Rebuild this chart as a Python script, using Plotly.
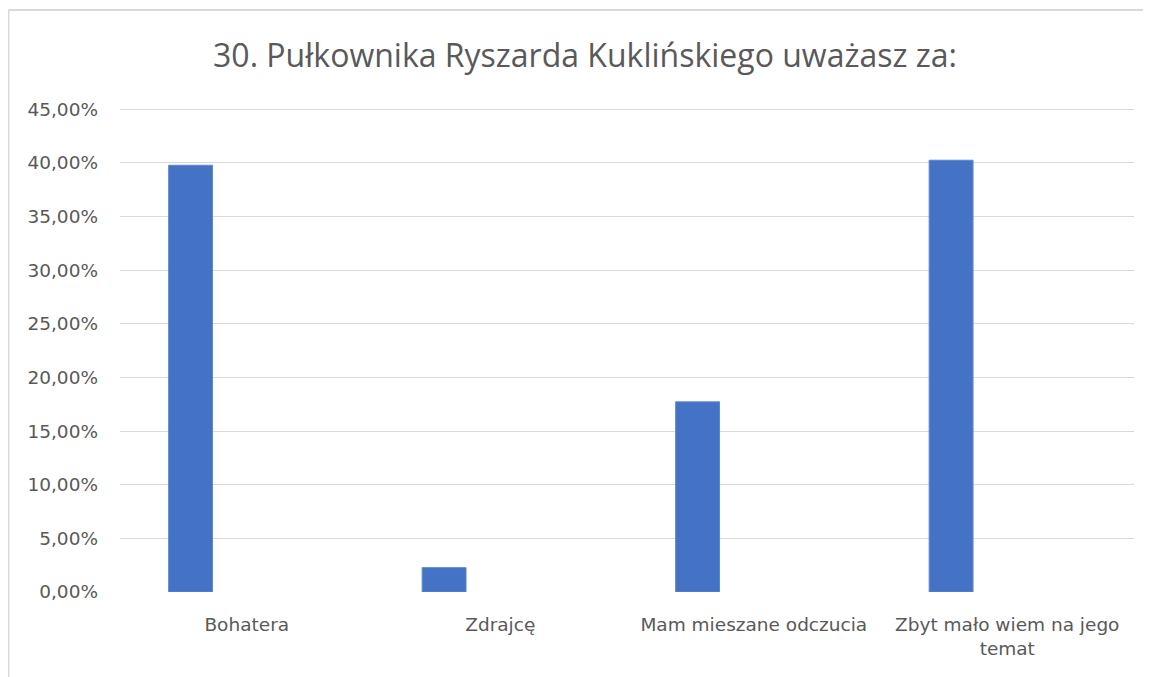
import plotly.graph_objects as go

categories = ["Bohatera", "Zdrajcę", "Mam mieszane odczucia", "Zbyt mało wiem na jego<br>temat"]
values = [39.77, 2.27, 17.72, 40.24]
tick_vals = [0, 5, 10, 15, 20, 25, 30, 35, 40, 45]
tick_text = ["0,00%", "5,00%", "10,00%", "15,00%", "20,00%", "25,00%", "30,00%", "35,00%", "40,00%", "45,00%"]
title = "30. Pułkownika Ryszarda Kuklińskiego uważasz za:"

# page body has an 8px margin, so the figure is sized to fit the window
W, H = 1143, 669
L, R, T, B = 112, 17, 99, 85
pw, ph = W - L - R, H - T - B

def px_x(p):
    return (p - L) / pw

def px_y(p):
    return (H - B - p) / ph

fig = go.Figure()
fig.add_trace(go.Bar(
    x=categories, y=values,
    marker=dict(color="#4472C4", line=dict(color="#5B86D0", width=1)),
    width=0.173, offset=-0.308,
    hoverinfo="x+y",
))

grey = "#595959"
lab_font = dict(size=18.5, color=grey, family="DejaVu Sans, sans-serif")
fig.update_layout(
    width=W, height=H,
    margin=dict(l=L, r=R, t=T, b=B),
    paper_bgcolor="white", plot_bgcolor="white",
    showlegend=False,
    font=dict(family="DejaVu Sans, sans-serif", color=grey),
    title=dict(text=title, x=(585 - 8) / W, xanchor="center", yref="container",
               y=1 - (56 - 8) / H, yanchor="middle",
               font=dict(size=32, color=grey, family="Open Sans, sans-serif")),
    xaxis=dict(type="category", showgrid=False, showline=False, zeroline=False,
               ticks="", tickfont=lab_font,
               ticklabelstandoff=19, range=[-0.5, 3.5]),
    yaxis=dict(range=[0, 45.2], tickvals=tick_vals, ticktext=tick_text,
               showgrid=True, gridcolor="#D9D9D9", gridwidth=1,
               zeroline=False, showline=False, ticks="",
               tickfont=lab_font, ticklabelstandoff=21),
    shapes=[
        dict(type="line", xref="paper", yref="paper",
             x0=px_x(0.5), x1=px_x(W + 10), y0=px_y(2), y1=px_y(2),
             line=dict(color="#D9D9D9", width=2)),
        dict(type="line", xref="paper", yref="paper",
             x0=px_x(0.5), x1=px_x(0.5), y0=px_y(2), y1=px_y(H + 10),
             line=dict(color="#D9D9D9", width=2)),
    ],
)

fig.write_html("out.html")
